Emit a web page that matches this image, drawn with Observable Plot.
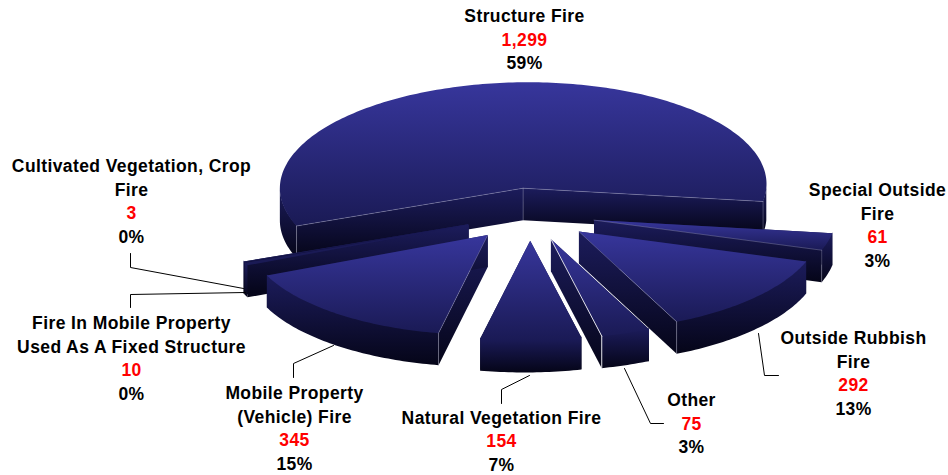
<!DOCTYPE html>
<html>
<head>
<meta charset="utf-8">
<script src="https://cdn.jsdelivr.net/npm/d3@7"></script>
<script src="https://cdn.jsdelivr.net/npm/@observablehq/plot@0.6"></script>
<style>
html,body{margin:0;padding:0;background:#fff}
svg{display:block}
svg text{letter-spacing:0.4px}
</style>
</head>
<body>
<div id="chart"></div>
<script>
// Data, in drawing order round the pie (clockwise)
const categories = ["Structure Fire","Special Outside Fire","Outside Rubbish Fire","Other","Natural Vegetation Fire","Mobile Property (Vehicle) Fire","Fire In Mobile Property Used As A Fixed Structure","Cultivated Vegetation, Crop Fire"];
const values = [1299,61,292,75,154,345,10,3];
const valueLabels = ["1,299","61","292","75","154","345","10","3"];
const percents = ["59%","3%","13%","3%","7%","15%","0%","0%"];
const labelLines = [["Structure Fire"],["Special Outside","Fire"],["Outside Rubbish","Fire"],["Other"],["Natural Vegetation Fire"],["Mobile Property","(Vehicle) Fire"],["Fire In Mobile Property","Used As A Fixed Structure"],["Cultivated Vegetation, Crop","Fire"]];

// Layout
const W = 948, H = 475;
const cx = 529.4, cy = 214, R = 242, squash = 0.425, depth = 32, explodeX = 66, explodeY = 62, persp = 0.02, skew = -5.3;
const startDeg = 248.5;
const labelPos = [[524,16],[877,190],[853,338],[691,400],[501,417.5],[294,393],[131,323],[131,166]];
const lineGap = 23.6;
const leaders = [
  [[130,253],[130,267],[243,288]],
  [[130,307],[130,294],[245,292]],
  [[293,377],[293,363],[333,345]],
  [[501,403],[501,389],[529,375]],
  [[624,368],[650,423],[663,423]],
  [[758,333],[764,375],[778,375]]
];
const paintOrder = [0,7,6,1,2,5,3,4];

const arcs = d3.pie().sort(null).value(d => d)
  .startAngle(startDeg*Math.PI/180).endAngle(startDeg*Math.PI/180+2*Math.PI)(values);

function project(a, r, ox, oy, drop){
  const ux = ox + r*Math.sin(a), uy = oy - r*Math.cos(a), f = 1 - persp*uy;
  return {x: cx + R*ux*f + skew*uy, y: cy + R*squash*uy*f + drop};
}
function sweep(a0,a1,ox,oy,drop){
  const n = Math.max(2,Math.ceil((a1-a0)/(Math.PI/180)));
  return d3.range(n+1).map(i => project(a0+(a1-a0)*i/n,1,ox,oy,drop));
}

const marks = [];
const edgeStyle = {stroke:"#a4a4c4",strokeWidth:0.6,strokeOpacity:0.6};
const brightEdge = {stroke:"#eeeef4",strokeWidth:1,strokeOpacity:0.9};
for (const i of paintOrder){
  const {startAngle:a0,endAngle:a1} = arcs[i];
  const mid = (a0+a1)/2;
  const ox = explodeX/R*Math.sin(mid), oy = -explodeY/R*Math.cos(mid);
  const apex = project(0,0,ox,oy,0), apexB = project(0,0,ox,oy,depth);
  const thin = values[i] < 20;
  // cut faces
  for (const a of [a0,a1]){
    const c = project(a,1,ox,oy,0), cB = project(a,1,ox,oy,depth);
    marks.push(Plot.line([apex,c,cB,apexB,apex],{x:"x",y:"y",fill:"url(#side)",stroke:"none"}));
  }
  // front part of the rim (starts just under the top face, which covers the seam)
  for (const k of [-1,0,1]){
    const lo = Math.max(a0,Math.PI/2+2*Math.PI*k), hi = Math.min(a1,3*Math.PI/2+2*Math.PI*k);
    if (hi>lo){
      const pts = [...sweep(lo,hi,ox,oy,-1),...sweep(lo,hi,ox,oy,depth).reverse()];
      pts.push(pts[0]);
      marks.push(Plot.line(pts,{x:"x",y:"y",fill:"url(#side)",stroke:"none"}));
    }
  }
  // top face
  const top = [apex,...sweep(a0,a1,ox,oy,0),apex];
  marks.push(Plot.line(top,{x:"x",y:"y",fill:thin?"#1a1a55":"url(#top)",stroke:"none"}));
  // hairlines on the cut edges that face the viewer
  if (!thin){
    const style = i===3 ? brightEdge : edgeStyle;
    const visible = [[a0,Math.sin(a0)<0],[a1,Math.sin(a1)>0]];
    for (const [a,vis] of visible){
      if (!vis) continue;
      const c = project(a,1,ox,oy,0), cB = project(a,1,ox,oy,depth);
      marks.push(Plot.line([apex,c],{x:"x",y:"y",...style}));
      marks.push(Plot.line([c,cB],{x:"x",y:"y",...style}));
    }
    if (i===0) marks.push(Plot.line([apex,apexB],{x:"x",y:"y",...edgeStyle}));
  }
}
for (const l of leaders){
  const pts = l.map(([x,y])=>({x,y}));
  marks.push(Plot.line(pts,{x:"x",y:"y",stroke:"#000",strokeWidth:1}));
}
const textRows = [];
categories.forEach((c,i)=>{
  const rows = [...labelLines[i].map(t=>({t,f:"#000"})),{t:valueLabels[i],f:"#ff0000"},{t:percents[i],f:"#000"}];
  rows.forEach((r,j)=>textRows.push({text:r.t,fill:r.f,x:labelPos[i][0],y:labelPos[i][1]+j*lineGap}));
});
const textOpts = {x:"x",y:"y",text:"text",fontSize:17.5,fontWeight:"bold",fontFamily:"'Liberation Sans',Arial,sans-serif",textAnchor:"middle",lineAnchor:"middle"};
marks.push(Plot.text(textRows.filter(d=>d.fill==="#000"),{...textOpts,fill:"#000"}));
marks.push(Plot.text(textRows.filter(d=>d.fill!=="#000"),{...textOpts,fill:"#ff0000"}));

const chart = Plot.plot({
  width:W,height:H,margin:0,
  x:{domain:[0,W],range:[0,W],axis:null},
  y:{domain:[0,H],range:[0,H],axis:null},
  style:{background:"#fff"},
  marks
});
const defs = d3.select(chart).insert("defs",":first-child");
const grad = (id,a,b)=>{
  const g = defs.append("linearGradient").attr("id",id).attr("x1",0).attr("y1",0).attr("x2",0).attr("y2",1);
  g.append("stop").attr("offset",0).attr("stop-color",a);
  g.append("stop").attr("offset",1).attr("stop-color",b);
};
grad("top","#37369c","#1a1a55");
grad("side","#1c1c5c","#050518");
document.getElementById("chart").appendChild(chart);
</script>
</body>
</html>
